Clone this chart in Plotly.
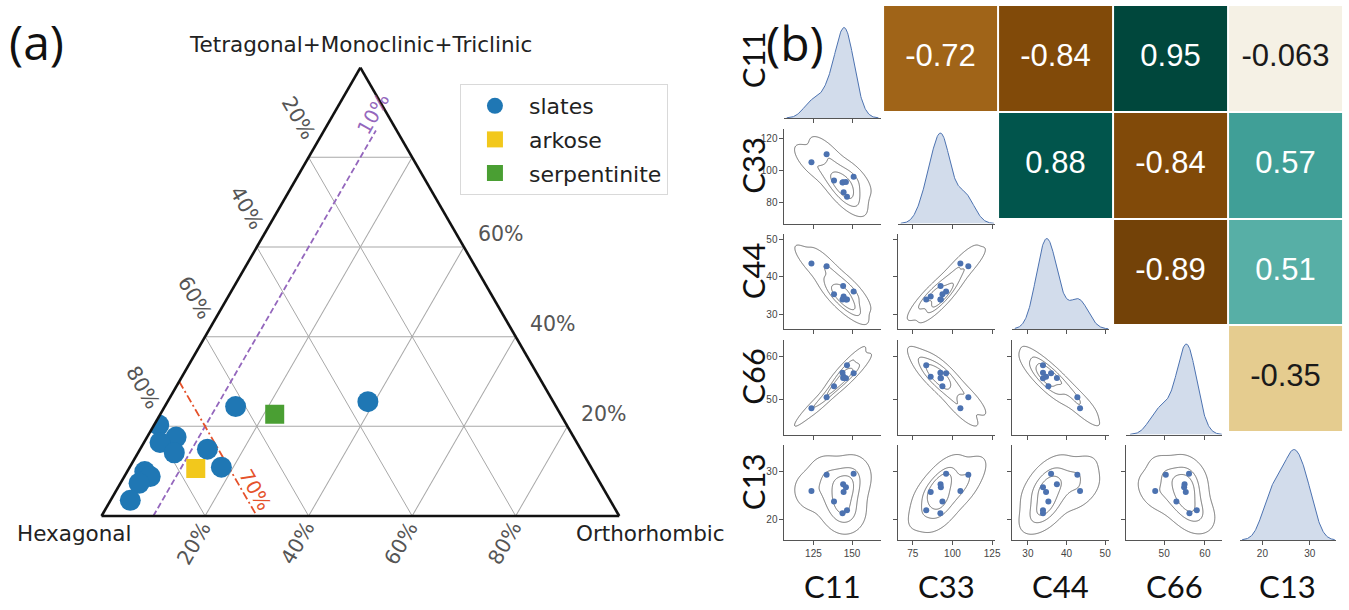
import numpy as np
import plotly.graph_objects as go

W, H = 1349, 610

# ================= Panel (a): ternary compositions (fractions) =================
slate_tetra = [0.244, 0.255, 0.203, 0.176, 0.164, 0.141, 0.149, 0.109, 0.099, 0.088, 0.073, 0.035]
slate_hexa  = [0.619, 0.358, 0.788, 0.768, 0.805, 0.789, 0.721, 0.714, 0.867, 0.862, 0.891, 0.927]
slate_ortho = [0.137, 0.387, 0.009, 0.056, 0.031, 0.070, 0.130, 0.177, 0.034, 0.050, 0.036, 0.038]
arkose_tetra, arkose_hexa, arkose_ortho = [0.106], [0.765], [0.129]
serp_tetra, serp_hexa, serp_ortho = [0.227], [0.552], [0.221]

tern_tick_values = [0.2, 0.4, 0.6, 0.8]
tern_tick_labels = ["20%", "40%", "60%", "80%"]
ortho_guide = 0.10       # purple dashed iso-line, Orthorhombic = 10 %
ortho_guide_top = 0.86   # where the dashed line stops
hexa_guide = 0.70        # red dash-dot iso-line, Hexagonal = 70 %
corner_names = ["Tetragonal+Monoclinic+Triclinic", "Hexagonal", "Orthorhombic"]

# ================= Panel (b): elastic constants of the samples =================
var_names = ["C11", "C33", "C44", "C66", "C13"]
C11 = [123.7, 133.5, 151.0, 144.2, 146.0, 144.5, 138.3, 146.7, 143.8]
C33 = [105.0, 110.0, 96.0, 92.5, 92.7, 86.3, 93.7, 83.5, 92.4]
C44 = [43.5, 42.8, 36.0, 37.5, 33.9, 34.7, 35.3, 33.9, 33.9]
C66 = [47.8, 50.4, 56.1, 55.0, 54.9, 55.3, 53.0, 58.0, 56.2]
C13 = [26.0, 29.4, 29.6, 27.4, 26.8, 25.8, 23.8, 22.0, 21.4]
data = {"C11": C11, "C33": C33, "C44": C44, "C66": C66, "C13": C13}

corr_rows = ["C11", "C33", "C44", "C66"]
corr_cols = ["C33", "C44", "C66", "C13"]
corr_values = [
    [-0.72, -0.84, 0.95, -0.063],
    [None, 0.88, -0.84, 0.57],
    [None, None, -0.89, 0.51],
    [None, None, None, -0.35],
]

x_ticks = {"C11": [125, 150], "C33": [75, 100, 125], "C44": [30, 40, 50], "C66": [50, 60], "C13": [20, 30]}
y_ticks = {"C33": [80, 100, 120], "C44": [30, 40, 50], "C66": [50, 60], "C13": [20, 30]}
x_ranges = {"C11": [106.25, 168.75], "C33": [65.9, 126.7], "C44": [25.9, 50.9], "C66": [40.6, 64.3], "C13": [15.2, 35.6]}
y_ranges = {"C33": [66.9, 126.0], "C44": [26.0, 51.4], "C66": [41.6, 64.1], "C13": [15.8, 35.6]}

# ---------------- helpers (kernel density estimates, like seaborn) ----------------
def kde1d(v, grid):
    v = np.asarray(v, float)
    bw = v.std(ddof=1) * len(v) ** (-1 / 5)
    d = (grid[:, None] - v[None, :]) / bw
    return np.exp(-0.5 * d ** 2).sum(1) / (len(v) * bw * np.sqrt(2 * np.pi))


def kde2d(x, y, n_grid=160, cut=3, bw_adjust=1.12):
    x = np.asarray(x, float); y = np.asarray(y, float)
    n = len(x)
    cov = np.cov(np.vstack([x, y])) * (bw_adjust * n ** (-1 / 6)) ** 2
    inv = np.linalg.inv(cov)
    norm = 1.0 / (2 * np.pi * np.sqrt(np.linalg.det(cov)) * n)
    bx, by = np.sqrt(cov[0, 0]), np.sqrt(cov[1, 1])
    xs = np.linspace(x.min() - cut * bx, x.max() + cut * bx, n_grid)
    ys = np.linspace(y.min() - cut * by, y.max() + cut * by, n_grid)
    X, Y = np.meshgrid(xs, ys)
    dx = X[..., None] - x
    dy = Y[..., None] - y
    q = inv[0, 0] * dx * dx + 2 * inv[0, 1] * dx * dy + inv[1, 1] * dy * dy
    Z = norm * np.exp(-0.5 * q).sum(-1)
    return xs, ys, Z


def iso_levels(Z, props):
    vals = np.sort(Z.ravel())[::-1]
    cum = np.cumsum(vals) / vals.sum()
    return [vals[min(np.searchsorted(cum, 1 - p), len(vals) - 1)] for p in props]


fig = go.Figure()

# ================= Panel (a) traces =================
fig.add_trace(go.Scatterternary(
    a=[0, ortho_guide_top], b=[1 - ortho_guide, 1 - ortho_guide - ortho_guide_top], c=[ortho_guide, ortho_guide],
    mode="lines", line=dict(color="#9467bd", width=1.8, dash="6px,3px"),
    showlegend=False, hoverinfo="skip", subplot="ternary"))
fig.add_trace(go.Scatterternary(
    a=[1 - hexa_guide, 0], b=[hexa_guide, hexa_guide], c=[0, 1 - hexa_guide],
    mode="lines", line=dict(color="#e5522b", width=1.8, dash="8px,3px,2px,3px"),
    showlegend=False, hoverinfo="skip", subplot="ternary"))
fig.add_trace(go.Scatterternary(
    a=slate_tetra, b=slate_hexa, c=slate_ortho, mode="markers", name="slates", legendgroup="g1",
    marker=dict(symbol="circle", size=21, color="#1f77b4"), subplot="ternary"))
fig.add_trace(go.Scatterternary(
    a=arkose_tetra, b=arkose_hexa, c=arkose_ortho, mode="markers", name="arkose", legendgroup="g2",
    marker=dict(symbol="square", size=19, color="#f2c81c"), subplot="ternary"))
fig.add_trace(go.Scatterternary(
    a=serp_tetra, b=serp_hexa, c=serp_ortho, mode="markers", name="serpentinite", legendgroup="g3",
    marker=dict(symbol="square", size=19, color="#4a9f33"), subplot="ternary"))

TRI_L, TRI_W, TRI_BASE = 102.0, 520.0, 517.0
TRI_H = TRI_W * np.sqrt(3) / 2


def tern_paper(top, ortho):
    px = TRI_L + (ortho + top / 2) * TRI_W
    py = TRI_BASE - top * TRI_H
    return px / W, 1 - py / H


tern_axis = dict(showticklabels=False, ticks="", showline=True, linecolor="#111", linewidth=2.6,
                 showgrid=True, gridcolor="#a8a8a8", gridwidth=1.1, tickmode="linear", tick0=0, dtick=0.2,
                 title=dict(text=""))

annotations = []


def ann(**kw):
    d = dict(xref="paper", yref="paper", showarrow=False, xanchor="center", yanchor="middle")
    d.update(kw)
    annotations.append(d)


tick_font = dict(family="DejaVu Sans", size=20.5, color="#555")
for v, lab in zip(tern_tick_values, tern_tick_labels):
    x, y = tern_paper(1 - v, 0)           # left edge: Hexagonal fraction
    ann(x=x, y=y, xshift=-10, yshift=39, text=lab, textangle=60, font=tick_font)
    x, y = tern_paper(0, v)               # bottom edge: Orthorhombic fraction
    ann(x=x, y=y, xshift=-11, yshift=-26, text=lab, textangle=-60, font=tick_font)
    if v < 0.7:                           # right edge: top-group fraction (80 % hidden by legend)
        x, y = tern_paper(v, 1 - v)
        ann(x=x, y=y, xshift=37, yshift=13, text=lab, font=tick_font)

x, y = tern_paper(0.895, ortho_guide)
ann(x=x, y=y, xshift=-11, text="10%", textangle=-60, font=dict(family="DejaVu Sans", size=19.5, color="#9467bd"))
x, y = tern_paper(0.06, 1 - hexa_guide - 0.06)
ann(x=x, y=y, xshift=13, text="70%", textangle=60, font=dict(family="DejaVu Sans", size=19.5, color="#e5522b"))

corner_font = dict(family="DejaVu Sans", size=21.5, color="#222")
x, y = tern_paper(1, 0)
ann(x=x, y=y, yshift=22, text=corner_names[0], font=corner_font)
x, y = tern_paper(0, 0)
ann(x=x, y=y, xshift=-27, yshift=-16, text=corner_names[1], font=corner_font)
x, y = tern_paper(0, 1)
ann(x=x, y=y, xshift=31, yshift=-16, text=corner_names[2], font=corner_font)

ann(x=37 / W, y=1 - 41 / H, text="(a)", font=dict(family="Open Sans", size=48, color="#111"))
ann(x=799 / W, y=1 - 42 / H, text="(b)", font=dict(family="Open Sans", size=48, color="#111"))

# ================= Panel (b) pair grid =================
COL_X0, COL_PITCH, AX_W = 788.0, 114.3, 97.0
ROW_B0, ROW_PITCH, AX_H = 118.0, 105.5, 95.0

layout_axes = {}
axis_font = dict(family="Liberation Sans", size=10, color="#444")
base_ax = dict(showline=True, linecolor="#555", linewidth=1, ticks="outside", ticklen=4, tickwidth=1,
               tickcolor="#555", showgrid=False, zeroline=False, tickfont=axis_font, fixedrange=True)

# correlation heatmap in the upper triangle (drawn first, underneath)
hx, hy = "x", "y"
fig.add_trace(go.Heatmap(z=corr_values, x=list(range(4)), y=list(range(4)), colorscale="BrBG", zmin=-1, zmax=1,
                         xgap=2, ygap=2, showscale=False, hoverinfo="skip", xaxis=hx, yaxis=hy))
tx, ty, tt, tc = [], [], [], []
for r, row in enumerate(corr_values):
    for c, v in enumerate(row):
        if v is None:
            continue
        tx.append(c); ty.append(r)
        tt.append(f"{v:g}")
        tc.append("white" if abs(v) > 0.45 else "#1a1a1a")
fig.add_trace(go.Scatter(x=tx, y=ty, text=tt, mode="text", textposition="middle center",
                         textfont=dict(family="Liberation Sans", size=31, color=tc),
                         showlegend=False, hoverinfo="skip", xaxis=hx, yaxis=hy))
layout_axes["xaxis"] = dict(domain=[887 / W, 1349 / W], range=[-0.5, 3.5], visible=False, anchor=hy, fixedrange=True)
layout_axes["yaxis"] = dict(domain=[1 - 432 / H, 1 - 5 / H], range=[3.5, -0.5], visible=False, anchor=hx, fixedrange=True)

k = 1
for i, vy in enumerate(var_names):
    for j, vx in enumerate(var_names):
        if j > i:
            continue
        k += 1
        xa, ya = f"x{k}", f"y{k}"
        x0 = COL_X0 + COL_PITCH * j
        yb = ROW_B0 + ROW_PITCH * i
        xdom = [x0 / W, (x0 + AX_W) / W]
        ydom = [1 - yb / H, 1 - (yb - AX_H) / H]
        xaxis = dict(base_ax, domain=xdom, range=x_ranges[vx], tickvals=x_ticks[vx],
                     showticklabels=(i == 4), anchor=ya)
        if i == j:
            vals = np.asarray(data[vx], float)
            bw = vals.std(ddof=1) * len(vals) ** (-1 / 5)
            grid = np.linspace(vals.min() - 3 * bw, vals.max() + 3 * bw, 200)
            dens = kde1d(vals, grid)
            fig.add_trace(go.Scatter(x=grid, y=dens, mode="lines", fill="tozeroy",
                                     fillcolor="rgba(76,114,176,0.25)", line=dict(color="#4c72b0", width=1),
                                     showlegend=False, hoverinfo="skip", xaxis=xa, yaxis=ya))
            yaxis = dict(domain=ydom, range=[0, dens.max() * 1.05], visible=False, anchor=xa, fixedrange=True)
        else:
            xs, ys, Z = kde2d(data[vx], data[vy])
            for lev in iso_levels(Z, [0.05, 0.3667, 0.6833]):
                fig.add_trace(go.Contour(x=xs, y=ys, z=Z, autocontour=False,
                                         contours=dict(coloring="lines", start=lev, end=lev, size=1),
                                         colorscale=[[0, "#6e6e6e"], [1, "#6e6e6e"]], line=dict(width=1),
                                         showscale=False, hoverinfo="skip", xaxis=xa, yaxis=ya))
            fig.add_trace(go.Scatter(x=data[vx], y=data[vy], mode="markers",
                                     marker=dict(color="#4c72b0", size=6), showlegend=False,
                                     hoverinfo="skip", xaxis=xa, yaxis=ya))
            yaxis = dict(base_ax, domain=ydom, range=y_ranges[vy], tickvals=y_ticks[vy],
                         showticklabels=(j == 0), anchor=xa)
        layout_axes[f"xaxis{k}"] = xaxis
        layout_axes[f"yaxis{k}"] = yaxis

label_font = dict(family="Lato", size=31, color="#111")
for i, v in enumerate(var_names):
    yb = ROW_B0 + ROW_PITCH * i
    ann(x=756 / W, y=1 - (yb - AX_H / 2 - 11) / H, text=v, textangle=-90, font=label_font)
    x0 = COL_X0 + COL_PITCH * i
    ann(x=(x0 + AX_W / 2) / W, y=1 - 586 / H, text=v, font=label_font)

fig.update_layout(
    width=W, height=H, margin=dict(l=0, r=0, t=0, b=0), paper_bgcolor="white",
    plot_bgcolor="rgba(0,0,0,0)",
    ternary=dict(domain=dict(x=[TRI_L / W, (TRI_L + TRI_W) / W], y=[1 - TRI_BASE / H, 1 - (TRI_BASE - TRI_H) / H]),
                 bgcolor="white", sum=1, aaxis=tern_axis, baxis=tern_axis, caxis=tern_axis),
    legend=dict(x=462 / W, y=1 - 84 / H, xanchor="left", yanchor="top", bgcolor="white",
                bordercolor="#d9d9d9", borderwidth=1, font=dict(family="DejaVu Sans", size=22, color="#222"),
                itemsizing="trace", itemwidth=58, tracegroupgap=2),
    annotations=annotations,
    **layout_axes,
)

fig.write_html("out.html", config={"displayModeBar": False},
               post_script="document.body.style.margin='0px';document.body.style.overflow='hidden';")
